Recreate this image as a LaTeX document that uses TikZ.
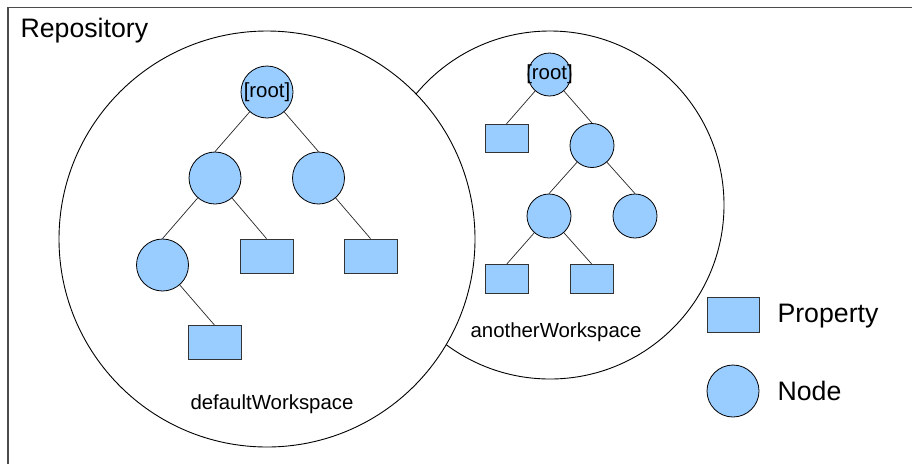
\documentclass[tikz,border=0pt]{standalone}
\usepackage{fontspec}
\setmainfont{Liberation Sans}
\definecolor{nodeblue}{HTML}{99CCFF}
\begin{document}
\begin{tikzpicture}[x=1pt,y=-1pt,
  every node/.style={font=\fontsize{20.4}{24}\selectfont},
  bigtxt/.style={font=\fontsize{26.7}{32}\selectfont},
  ws/.style={draw=black,fill=white,line width=0.9pt},
  jnode/.style={circle,draw=black,fill=nodeblue,line width=0.8pt,inner sep=0pt,minimum size=#1},
  jnode/.default=52pt,
  jprop/.style={rectangle,draw=black!80,fill=nodeblue,line width=0.8pt,inner sep=0pt,minimum width=53pt,minimum height=34pt},
  jpropsm/.style={jprop,minimum width=43pt,minimum height=28.5pt},
  link/.style={draw=black!85,line width=0.7pt}]
\useasboundingbox (0,0) rectangle (912,464);
\fill[white] (0,0) rectangle (912,464);

% repository frame (top and left edges)
\draw[black!70,line width=1.4pt] (8,464) -- (8,7.5) -- (912,7.5);
\node[bigtxt,anchor=west] (repo) at (17,31) {Repository};

% workspaces: the default one overlaps the other
\draw[ws] (550,205) circle (174);
\draw[ws] (267,239) circle (208);
\node (wsdef) at (272,404) {defaultWorkspace};
\node (wsother) at (556,332) {anotherWorkspace};

% defaultWorkspace tree
\node[jnode] (r1) at (267,92) {\makebox[0pt]{[root]}};
\node[jnode] (a1) at (215,178) {};
\node[jnode] (b1) at (318.5,178) {};
\node[jnode] (c1) at (162.5,265) {};
\node[jprop] (p1) at (266.5,256) {};
\node[jprop] (p2) at (370.5,256) {};
\node[jprop] (p3) at (214.5,342.5) {};
\draw[link] (r1) -- (a1.north);
\draw[link] (r1) -- (b1.north);
\draw[link] (a1) -- (c1.north);
\draw[link] (a1) -- (p1.north);
\draw[link] (b1) -- (p2.north);
\draw[link] (c1) -- (p3.north);

% anotherWorkspace tree
\node[jnode=43pt] (r2) at (549.5,74.5) {\makebox[0pt]{[root]}};
\node[jpropsm] (q1) at (506.5,138.5) {};
\node[jnode=44pt] (a2) at (592,145.5) {};
\node[jnode=44pt] (b2) at (549,216) {};
\node[jnode=44pt] (c2) at (635,216) {};
\node[jpropsm] (q2) at (506.5,279) {};
\node[jpropsm] (q3) at (592,279) {};
\draw[link] (r2) -- (q1.north);
\draw[link] (r2) -- (a2.north);
\draw[link] (a2) -- (b2.north);
\draw[link] (a2) -- (c2.north);
\draw[link] (b2) -- (q2.north);
\draw[link] (b2) -- (q3.north);

% legend
\node[jprop,minimum width=52pt,minimum height=35pt] (legp) at (733,314.5) {};
\node[bigtxt,anchor=west] (legptxt) at (774,316) {Property};
\node[jnode] (legn) at (733,391) {};
\node[bigtxt,anchor=west] (legntxt) at (774,391) {Node};
\end{tikzpicture}
\end{document}
